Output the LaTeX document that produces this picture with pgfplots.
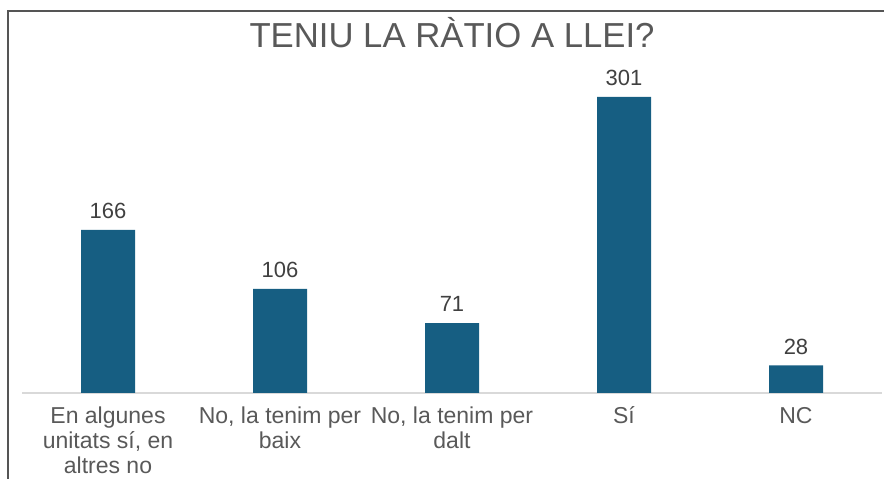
\documentclass[border=0pt]{standalone}
\usepackage{fontspec}
\setmainfont{Liberation Sans}
\usepackage{pgfplots}
\pgfplotsset{compat=1.18}
\definecolor{barblue}{RGB}{22,94,130}
\definecolor{labgray}{RGB}{89,89,89}
\definecolor{numgray}{RGB}{64,64,64}
\definecolor{framegray}{RGB}{85,85,85}
\definecolor{basegray}{RGB}{217,217,217}
\newcommand{\fl}{\rule{0pt}{18pt}}
\begin{document}
\begin{tikzpicture}[x=1pt,y=1pt]
\path[use as bounding box] (0,0) rectangle (884,479);
\draw[framegray, line width=1.6pt] (8,0) -- (8,468) -- (884,468);
\node[anchor=base, text=labgray, font=\fontsize{34.7}{40}\selectfont, inner sep=0pt] at (452,431) {TENIU LA RÀTIO A LLEI?};
\begin{axis}[
  at={(22pt,86pt)}, anchor=south west,
  scale only axis, width=860pt, height=344.2pt,
  xmin=-0.5, xmax=4.5, ymin=0, ymax=350,
  axis x line=bottom, axis y line=none,
  x axis line style={draw=basegray, line width=1.5pt, -},
  xtick=data, xtick style={draw=none},
  xticklabels={{\fl En algunes\\unitats sí, en\\altres no},{\fl No, la tenim per\\baix},{\fl No, la tenim per\\dalt},{\fl Sí},{\fl NC}},
  xticklabel style={anchor=north, inner sep=0pt, yshift=-8pt, align=center, text=labgray, font=\fontsize{23}{25}\selectfont},
  ybar, bar width=54pt,
  nodes near coords,
  /pgf/number format/assume math mode=true,
  every node near coord/.append style={anchor=south, inner sep=0pt, yshift=11pt, text=numgray, font=\fontsize{22}{26}\selectfont},
  clip=false,
]
\addplot[fill=barblue, draw=none] coordinates {(0,166) (1,106) (2,71) (3,301) (4,28)};
\end{axis}
\end{tikzpicture}
\end{document}
